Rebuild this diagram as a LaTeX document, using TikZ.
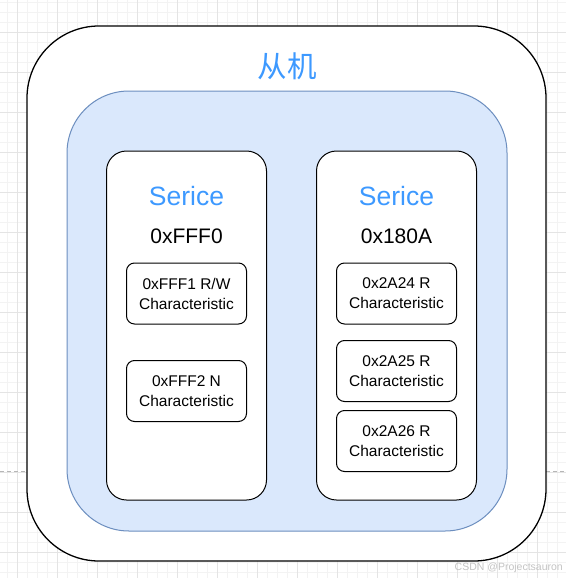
\documentclass[tikz,border=0pt]{standalone}
\usepackage{fontspec}
\setmainfont{Liberation Sans}
\newfontfamily\cjkfont{Noto Sans CJK SC}
\definecolor{txtblue}{HTML}{3D99FF}
\definecolor{fillblue}{HTML}{DAE8FC}
\definecolor{strokeblue}{HTML}{6C8EBF}
\definecolor{gridminor}{HTML}{F3F3F3}
\definecolor{gridmajor}{HTML}{E4E4E4}
\definecolor{wmgray}{HTML}{C4C4C4}
\tikzset{
  minorgrid/.style={draw=gridminor, line width=0.8pt},
  majorgrid/.style={draw=gridmajor, line width=0.9pt},
  pagebreak/.style={draw=gridmajor!80!black, dash pattern=on 4pt off 3pt, line width=0.8pt},
  outerbox/.style={draw=black, fill=white, line width=1.3pt, rounded corners=72pt, inner sep=0pt, outer sep=0pt},
  bluebox/.style={draw=strokeblue, fill=fillblue, line width=1pt, rounded corners=62pt, inner sep=0pt, outer sep=0pt},
  svcbox/.style={draw=black, fill=white, line width=1pt, rounded corners=20pt, minimum width=160pt, minimum height=349pt, inner sep=0pt, outer sep=0pt},
  charbox/.style={draw=black, fill=white, line width=1pt, rounded corners=8pt, minimum width=120pt, minimum height=61pt, inner sep=0pt, outer sep=0pt, align=center, font=\fontsize{15.5pt}{20pt}\selectfont},
  svctitle/.style={text=txtblue, font=\fontsize{26.5pt}{30pt}\selectfont, inner sep=0pt},
  svcuuid/.style={text=black, font=\fontsize{21pt}{24pt}\selectfont, inner sep=0pt},
  maintitle/.style={text=txtblue, font=\cjkfont\fontsize{29.5pt}{32pt}\selectfont, inner sep=0pt},
  watermark/.style={text=wmgray, font=\fontsize{10.5pt}{13pt}\selectfont, inner sep=0pt, anchor=east}
}
\begin{document}
\begin{tikzpicture}[x=1pt,y=-1pt]
\useasboundingbox (0,0) rectangle (566,578);
\fill[white] (0,0) rectangle (566,578);
% background grid
\foreach \gx in {7,17,...,566} \draw[minorgrid] (\gx,0) -- (\gx,578);
\foreach \gy in {2,12,...,578} \draw[minorgrid] (0,\gy) -- (566,\gy);
\foreach \gx in {17,57,...,566} \draw[majorgrid] (\gx,0) -- (\gx,578);
\foreach \gy in {32,72,...,578} \draw[majorgrid] (0,\gy) -- (566,\gy);
\coordinate (pbL) at (0,471);
\coordinate (pbR) at (566,471);
\draw[pagebreak] (pbL) -- (pbR);
% boxes
\node[outerbox, minimum width=519pt, minimum height=535pt] (outer) at (286.5,293.5) {};
\node[bluebox, minimum width=440pt, minimum height=440pt] (blue) at (287,311) {};
\node[maintitle] (title) at (287,66) {从机};
\node[svcbox] (svcA) at (186.5,325.5) {};
\node[svcbox] (svcB) at (396.5,325.5) {};
\node[svctitle] (svcAt) at (186.5,196) {Serice};
\node[svcuuid] (svcAu) at (186.5,236) {0xFFF0};
\node[svctitle] (svcBt) at (396.5,196) {Serice};
\node[svcuuid] (svcBu) at (396.5,236) {0x180A};
\node[charbox] (cA1) at (186.5,293.5) {0xFFF1 R/W\\Characteristic};
\node[charbox] (cA2) at (186.5,391) {0xFFF2 N\\Characteristic};
\node[charbox] (cB1) at (396.5,293.5) {0x2A24 R\\Characteristic};
\node[charbox] (cB2) at (396.5,371) {0x2A25 R\\Characteristic};
\node[charbox] (cB3) at (396.5,441) {0x2A26 R\\Characteristic};
\node[watermark] (wm) at (563,567.5) {CSDN @Projectsauron};
\end{tikzpicture}
\end{document}
